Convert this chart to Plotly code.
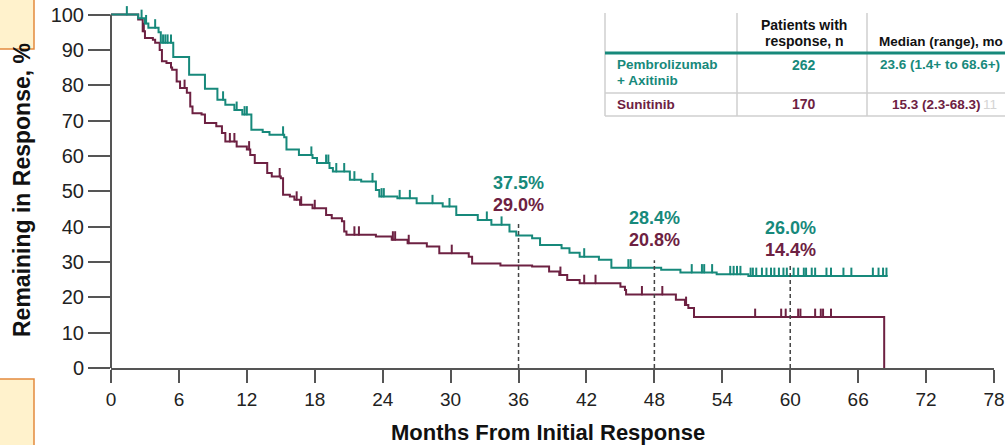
import numpy as np
import plotly.graph_objects as go

TEAL = "#17897B"
MAROON = "#6D2142"
AXIS = "#555555"
GRID_GREY = "#cfcfcf"

# Pembrolizumab + Axitinib: step times (months) and % remaining in response after each step
pa_time = [0, 2.4, 3.0, 3.3, 4.2, 4.4, 5.5, 6.9, 8.3, 9.4,
           10.1, 10.9, 11.6, 12.4, 13.4, 14.0, 15.3, 15.5, 16.6, 17.8,
           18.2, 19.3, 19.6, 21.1, 22.1, 23.4, 23.7, 25.3, 27.0, 29.3,
           30.5, 32.4, 33.6, 35.2, 35.8, 37.2, 37.9, 39.8, 40.5, 41.4,
           43.1, 44.2, 48.6, 50.3, 53.5, 56.3, 68.6]
pa_pct = [100, 99.0, 97.5, 96.3, 95.0, 92.0, 88.0, 83.0, 79.0, 75.9,
          74.5, 73.0, 71.7, 67.4, 66.8, 66.0, 65.3, 61.8, 60.3, 59.4,
          58.0, 56.6, 55.6, 53.3, 52.8, 50.4, 48.5, 48.0, 46.6, 45.7,
          43.3, 41.9, 40.5, 38.6, 37.5, 36.7, 34.8, 33.9, 32.6, 31.5,
          30.6, 28.4, 27.8, 27.0, 26.5, 26.0, 26.0]
pa_censored = [1.4, 2.7, 3.1, 3.9, 4.6, 4.8, 5.0, 5.3, 9.9, 11.1, 11.8, 12.0,
               15.2, 17.7, 19.0, 19.2, 19.9, 20.6, 21.5, 23.1, 23.9, 24.1,
               25.5, 26.4, 28.4, 29.9, 33.2, 34.5, 41.8, 45.7, 45.9, 51.3,
               52.2, 52.4, 53.1, 54.7, 55.0, 55.3, 55.6, 56.5, 56.7, 57.0,
               57.5, 57.9, 58.3, 58.6, 59.0, 59.4, 59.7, 60.3, 60.7, 61.2,
               61.4, 61.9, 62.2, 63.2, 63.6, 64.7, 65.4, 67.3, 67.8, 68.2, 68.5]

# Sunitinib
sun_time = [0, 2.4, 2.8, 3.0, 3.7, 3.9, 4.3, 4.5, 4.9, 5.3,
            5.4, 5.8, 6.1, 6.7, 7.0, 7.2, 8.0, 8.3, 9.3, 9.8,
            10.1, 11.1, 12.0, 12.3, 12.7, 13.8, 14.2, 15.0, 15.2, 15.8,
            16.2, 16.7, 17.8, 19.0, 19.5, 20.4, 20.6, 20.8, 23.4, 24.8,
            26.2, 27.9, 29.0, 31.6, 31.9, 34.4, 37.2, 38.7, 39.6, 40.3,
            41.4, 45.0, 45.4, 45.5, 49.9, 50.7, 51.0, 51.5, 68.3]
sun_pct = [100, 98.6, 95.3, 93.4, 92.9, 92.0, 90.0, 86.8, 86.3, 85.0,
           84.4, 81.1, 79.2, 77.9, 74.0, 72.1, 71.7, 69.3, 68.4, 66.5,
           64.1, 62.7, 61.8, 60.3, 58.0, 55.2, 54.2, 53.7, 49.0, 48.5,
           47.6, 46.2, 45.2, 43.3, 42.4, 41.5, 38.6, 37.7, 37.2, 36.3,
           35.3, 34.4, 32.5, 31.5, 29.6, 29.0, 28.7, 27.3, 26.3, 24.9,
           24.0, 23.0, 22.1, 20.8, 19.3, 17.8, 17.0, 14.4, 0]
sun_censored = [2.9, 6.5, 10.5, 10.9, 12.2, 14.9, 16.4, 16.8, 18.0, 21.5, 21.9,
                24.9, 25.1, 26.3, 30.1, 39.7, 41.8, 42.8, 46.9, 48.7, 50.8,
                56.9, 59.2, 59.6, 60.7, 60.9, 62.2, 62.7, 62.9, 63.6]

# Landmark estimates
landmark_months = [36, 48, 60]
pa_landmark = [37.5, 28.4, 26.0]
sun_landmark = [29.0, 20.8, 14.4]

x_ticks = list(range(0, 79, 6))
y_ticks = list(range(0, 101, 10))

# Plot-area geometry (pixels) used for paper-coordinate placement
W, H = 1005, 445
ML, MR, MT, MB = 111, 11, 4, 77
PW, PH = W - ML - MR, H - MT - MB
Y_TOP = 103


def px(xp):
    return (xp - ML) / PW


def py(yp):
    return (H - MB - yp) / PH


def level_at(times, pcts, t):
    i = np.searchsorted(np.asarray(times), t, side="right") - 1
    return float(np.asarray(pcts)[i])


fig = go.Figure()


def add_arm(times, pcts, censored, color):
    fig.add_trace(go.Scatter(
        x=times, y=pcts, mode="lines", line=dict(color=color, width=2, shape="hv"),
        hoverinfo="skip", showlegend=False))
    cy = [level_at(times, pcts, t) for t in censored]
    fig.add_trace(go.Scatter(
        x=censored, y=cy, mode="markers",
        marker=dict(size=2, color=color),
        error_y=dict(type="data", symmetric=False, array=[2.4] * len(cy),
                     arrayminus=[0] * len(cy), color=color, thickness=2, width=0),
        hoverinfo="skip", showlegend=False))


add_arm(sun_time, sun_pct, sun_censored, MAROON)
add_arm(pa_time, pa_pct, pa_censored, TEAL)

shapes = []
annotations = []

# Landmark dashed guides and labels
dash_tops = [41.4, 30.5, 29.6]
for m, top in zip(landmark_months, dash_tops):
    shapes.append(dict(type="line", xref="x", yref="y", x0=m, x1=m, y0=0, y1=top,
                       line=dict(color="#444444", width=1.5, dash="4px,3px")))
for m, a, b, ya, yb in zip(landmark_months, pa_landmark, sun_landmark,
                           [52.4, 42.5, 39.7], [46.2, 36.3, 33.4]):
    annotations.append(dict(x=m, y=ya, xref="x", yref="y", text=f"<b>{a:.1f}%</b>",
                            showarrow=False, xanchor="center", yanchor="middle",
                            font=dict(size=18, color=TEAL)))
    annotations.append(dict(x=m, y=yb, xref="x", yref="y", text=f"<b>{b:.1f}%</b>",
                            showarrow=False, xanchor="center", yanchor="middle",
                            font=dict(size=18, color=MAROON)))

# Y axis line (stops at 100)
shapes.append(dict(type="line", xref="paper", yref="paper", x0=0, x1=0, y0=0,
                   y1=100 / Y_TOP, line=dict(color=AXIS, width=2)))

# Summary table
shapes.append(dict(type="rect", xref="paper", yref="paper", x0=px(605), x1=px(1006),
                   y0=py(116), y1=py(13), fillcolor="white", line=dict(width=0)))
for xv in [605, 737, 867]:
    shapes.append(dict(type="line", xref="paper", yref="paper", x0=px(xv), x1=px(xv),
                       y0=py(116), y1=py(13), line=dict(color=GRID_GREY, width=1.5)))
for yv in [93, 116]:
    shapes.append(dict(type="line", xref="paper", yref="paper", x0=px(605), x1=px(1006),
                       y0=py(yv), y1=py(yv), line=dict(color=GRID_GREY, width=1.5)))
shapes.append(dict(type="line", xref="paper", yref="paper", x0=px(605), x1=px(1006),
                   y0=py(53), y1=py(53), line=dict(color=TEAL, width=3)))

# Side boxes
for y0, y1 in [(-1, 49), (379, 446)]:
    shapes.append(dict(type="rect", xref="paper", yref="paper", x0=px(-2), x1=px(34),
                       y0=py(y1), y1=py(y0), fillcolor="#FFF2CC",
                       line=dict(color="#E38A3E", width=1.5)))

TF = "Liberation Sans, Arial, sans-serif"


def cell(text, xp, yp, color, anchor="left", size=13.5):
    annotations.append(dict(x=px(xp), y=py(yp), xref="paper", yref="paper",
                            text=text, showarrow=False, xanchor=anchor, yanchor="middle",
                            font=dict(family=TF, size=size, color=color)))


cell("<b>Patients with</b>", 804, 25, "#111111", "center", 14)
cell("<b>response, n</b>", 804, 41, "#111111", "center", 14)
cell("<b>Median (range), mo</b>", 877, 42, "#111111", size=13.5)
cell("<b>Pembrolizumab</b>", 615, 65, TEAL)
cell("<b>+ Axitinib</b>", 615, 80, TEAL)
cell("<b>262</b>", 804, 65, TEAL, "center", 14)
cell("<b>23.6 (1.4+ to 68.6+)</b>", 878, 65, TEAL, size=13.5)
cell("<b>Sunitinib</b>", 615, 104, MAROON)
cell("<b>170</b>", 804, 104, MAROON, "center", 14)
cell("<b>15.3 (2.3-68.3)</b>", 890, 104, MAROON, size=13.5)
cell("11", 981, 104, "#d4d4d4", size=13.5)

# Axis titles
annotations.append(dict(x=px(22), y=py(190), xref="paper", yref="paper",
                        text="<b>Remaining in Response, %</b>", textangle=-90,
                        xanchor="center", yanchor="middle",
                        showarrow=False, font=dict(family=TF, size=23, color="#111111")))
annotations.append(dict(x=px(548), y=py(432), xref="paper", yref="paper",
                        text="<b>Months From Initial Response</b>", showarrow=False,
                        xanchor="center", yanchor="middle",
                        font=dict(family=TF, size=22, color="#111111")))

fig.update_layout(
    width=W, height=H,
    margin=dict(l=ML, r=MR, t=MT, b=MB, pad=0, autoexpand=False),
    paper_bgcolor="white", plot_bgcolor="white",
    font=dict(family=TF, color="#222222"),
    shapes=shapes, annotations=annotations, showlegend=False,
    xaxis=dict(range=[0, 78], tickvals=x_ticks, ticks="outside", ticklen=13,
               tickwidth=2, tickcolor=AXIS, showline=True, linecolor=AXIS, linewidth=2,
               showgrid=False, zeroline=False, ticklabeloverflow="allow",
               automargin=False,
               tickfont=dict(family=TF, size=19, color="#222222")),
    yaxis=dict(range=[0, Y_TOP], tickvals=y_ticks, ticks="outside", ticklen=22,
               tickwidth=2, tickcolor=AXIS, showline=False, showgrid=False,
               zeroline=False, automargin=False,
               tickfont=dict(size=20, color="#222222")),
)

fig.write_html("out.html")
